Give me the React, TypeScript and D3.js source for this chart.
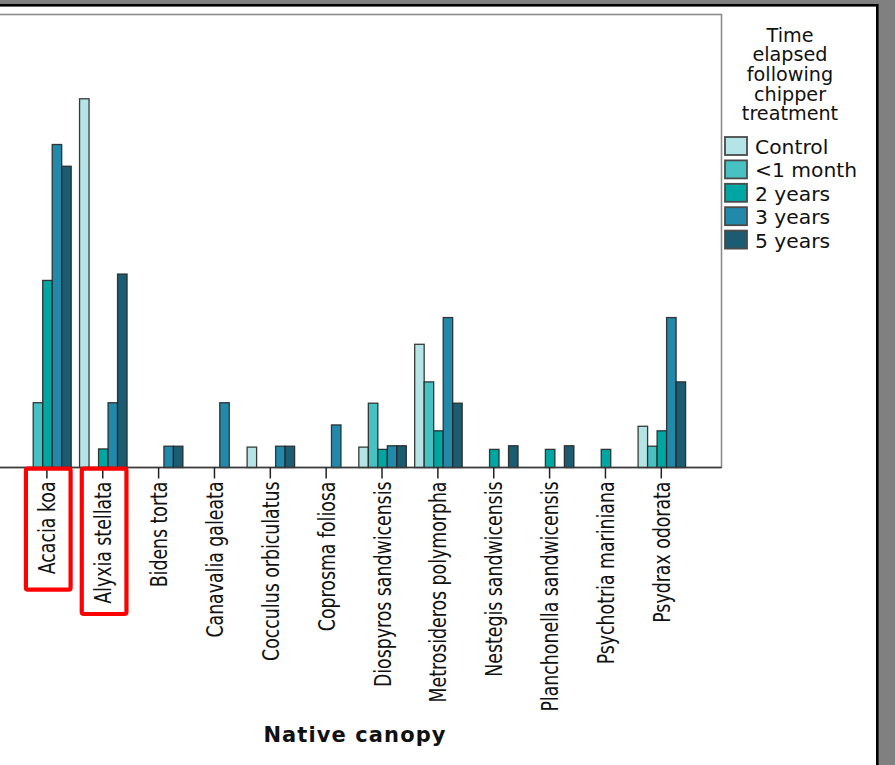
import React from "react";
import * as d3 from "d3";

const categories = [
  "Acacia koa",
  "Alyxia stellata",
  "Bidens torta",
  "Canavalia galeata",
  "Cocculus orbiculatus",
  "Coprosma foliosa",
  "Diospyros sandwicensis",
  "Metrosideros polymorpha",
  "Nestegis sandwicensis",
  "Planchonella sandwicensis",
  "Psychotria mariniana",
  "Psydrax odorata",
];

const seriesNames = ["Control", "<1 month", "2 years", "3 years", "5 years"];
const seriesColors = ["#b4e4e5", "#48c1c3", "#00a6a1", "#2389ab", "#1c5c73"];

const controlValues = [0, 81.4, 0, 0, 4.5, 0, 4.5, 27.2, 0, 0, 0, 9.1];
const lessOneMonthValues = [14.3, 0, 0, 0, 0, 0, 14.2, 18.9, 0, 0, 0, 4.7];
const twoYearValues = [41.3, 4.1, 0, 0, 0, 0, 4.0, 8.1, 4.0, 4.0, 4.0, 8.1];
const threeYearValues = [71.3, 14.3, 4.7, 14.3, 4.7, 9.4, 4.8, 33.1, 0, 0, 0, 33.1];
const fiveYearValues = [66.5, 42.7, 4.7, 0, 4.7, 0, 4.8, 14.2, 4.8, 4.8, 0, 18.9];

const seriesValues = [controlValues, lessOneMonthValues, twoYearValues, threeYearValues, fiveYearValues];

const legendTitleLines = ["Time", "elapsed", "following", "chipper", "treatment"];
const xAxisTitle = "Native canopy";
const highlighted = ["Acacia koa", "Alyxia stellata"];
const highlightHeights = [121, 145.3];

const W = 895;
const H = 765;
const plotTop = 14.5;
const baseline = 467.5;
const plotRight = 721.5;

export default function App() {
  const x = d3.scalePoint<string>().domain(categories).range([46.9, 661.3]);
  const xs = d3.scaleBand<string>().domain(seriesNames).range([-23.2, 24.3]).padding(0);
  const y = d3.scaleLinear().domain([0, 100]).range([baseline, plotTop]);

  const bars: { cat: string; s: string; v: number; color: string }[] = [];
  categories.forEach((c, ci) => {
    seriesNames.forEach((s, si) => {
      const v = seriesValues[si][ci];
      if (v > 0) bars.push({ cat: c, s, v, color: seriesColors[si] });
    });
  });

  const labelFont = "'DejaVu Sans Condensed', 'DejaVu Sans', sans-serif";

  return (
    <svg
      width={W}
      height={H}
      style={{ position: "absolute", left: 0, top: 0, display: "block" }}
    >
      <rect x={0} y={0} width={W} height={H} fill="#808080" />
      <rect x={-10} y={5.3} width={887.3} height={H + 20} fill="#ffffff" stroke="#000" strokeWidth={2.6} />

      {/* plot frame */}
      <rect
        x={-30}
        y={plotTop}
        width={plotRight + 30}
        height={baseline - plotTop}
        fill="none"
        stroke="#8c8c8c"
        strokeWidth={1.6}
      />

      {/* bars */}
      {bars.map((b, i) => (
        <rect
          key={i}
          x={(x(b.cat) as number) + (xs(b.s) as number)}
          y={y(b.v)}
          width={xs.bandwidth()}
          height={baseline - y(b.v)}
          fill={b.color}
          stroke="#262626"
          strokeOpacity={0.9}
          strokeWidth={1.3}
        />
      ))}

      {/* baseline axis */}
      <line x1={-30} x2={plotRight} y1={baseline} y2={baseline} stroke="#3a3a3a" strokeWidth={1.6} />

      {/* ticks and labels */}
      {categories.map((c) => (
        <g key={c} transform={`translate(${x(c)},${baseline})`}>
          <line y1={0} y2={11} stroke="#222" strokeWidth={1.5} />
          <text
            transform="translate(0,14) rotate(-90) scale(0.81,1)"
            textAnchor="end"
            dy="0.36em"
            fontFamily={labelFont}
            fontSize={23.8}
            fill="#111"
          >
            {c}
          </text>
        </g>
      ))}

      {/* highlight boxes */}
      {highlighted.map((c, i) => (
        <rect
          key={c}
          x={(x(c) as number) - 21}
          y={468.7}
          width={44.7}
          height={highlightHeights[i]}
          rx={2}
          fill="none"
          stroke="#ff0000"
          strokeWidth={4.2}
        />
      ))}

      {/* x axis title */}
      <text
        x={355}
        y={742}
        textAnchor="middle"
        fontFamily="'DejaVu Sans', sans-serif"
        fontWeight="bold"
        fontSize={21}
        letterSpacing={1.1}
        fill="#111"
      >
        {xAxisTitle}
      </text>

      {/* legend */}
      <g fontFamily="'DejaVu Sans', sans-serif" fill="#111">
        {legendTitleLines.map((t, i) => (
          <text key={t} x={790} y={41.7 + i * 19.6} textAnchor="middle" fontSize={19.2}>
            {t}
          </text>
        ))}
        {seriesNames.map((s, i) => (
          <g key={s} transform={`translate(725,${137 + i * 23.4})`}>
            <rect x={0} y={0} width={22} height={18} fill={seriesColors[i]} stroke="#4a4a4a" strokeWidth={1.8} />
            <text x={30} y={17} fontSize={20.3}>
              {s}
            </text>
          </g>
        ))}
      </g>
    </svg>
  );
}
